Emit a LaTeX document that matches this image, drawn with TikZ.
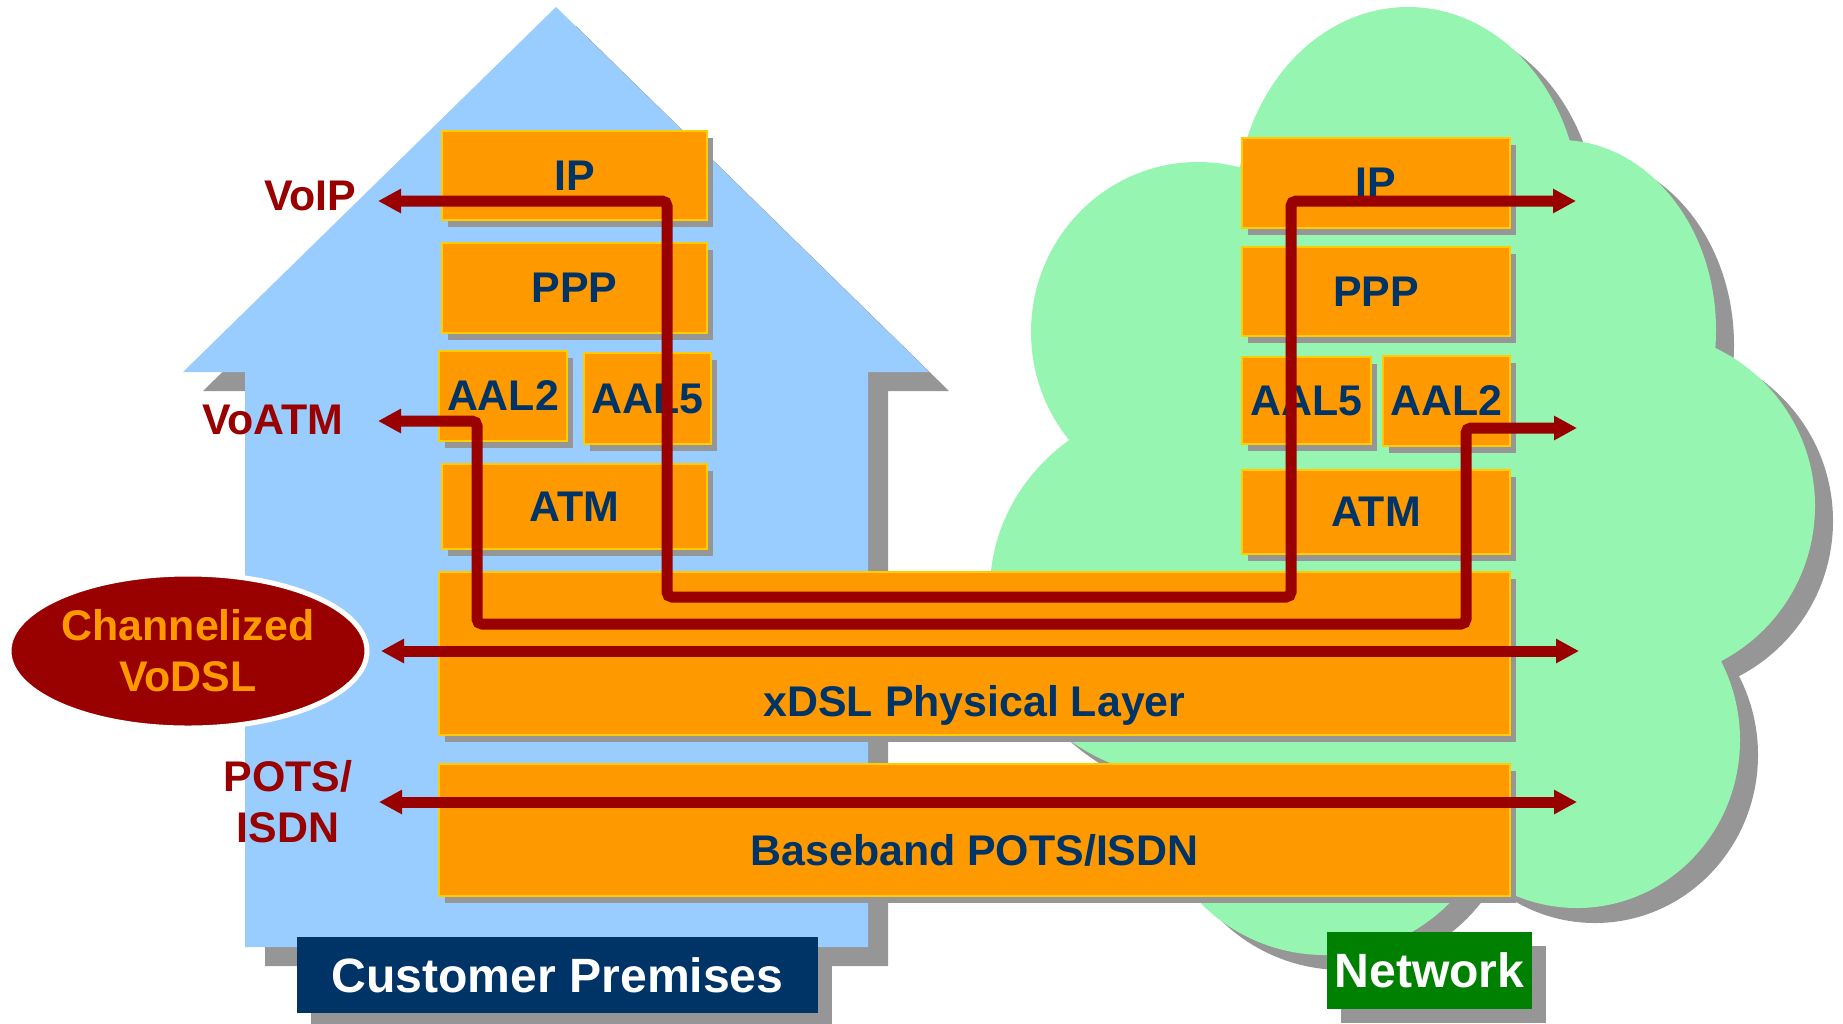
\documentclass[tikz,border=0pt]{standalone}
\usepackage{fontspec}
\setmainfont{Liberation Sans}
\usetikzlibrary{arrows.meta,shapes.geometric,shadows}

\definecolor{houseblue}{HTML}{99CCFF}
\definecolor{cloudgreen}{HTML}{96F5B1}
\definecolor{shadowgray}{HTML}{969696}
\definecolor{layerorange}{HTML}{FF9900}
\definecolor{layeredge}{HTML}{FFCC00}
\definecolor{navy}{HTML}{003366}
\definecolor{darkred}{HTML}{990000}
\definecolor{netgreen}{HTML}{008000}

\newcommand{\boxfont}{\fontsize{12.2}{14.5}\selectfont\bfseries}
\newcommand{\tagfont}{\fontsize{13.7}{16}\selectfont\bfseries}

\tikzset{
    layer/.style={fill=layerorange, draw=layeredge, line width=0.15mm, text=navy, font=\boxfont, inner sep=0pt,
        general shadow={fill=shadowgray, shadow xshift=0.6mm, shadow yshift=-0.7mm}},
    side/.style={text=darkred, font=\boxfont, inner sep=0pt},
    tag/.style={text=white, font=\tagfont, inner sep=0pt,
        general shadow={fill=shadowgray, shadow xshift=1.35mm, shadow yshift=-1.35mm}},
    vodsl/.style={ellipse, fill=darkred, draw=white, line width=0.5mm, text=layerorange, font=\boxfont,
        align=center, inner sep=0pt, minimum width=35.8mm, minimum height=15.4mm},
    flow/.style={draw=darkred, line width=1.1mm, rounded corners=0.5mm,
        >={Triangle[length=2.3mm,width=2.3mm]}, <->}
}

\begin{document}
\begin{tikzpicture}[x=0.1mm, y=-0.1mm]
    \useasboundingbox (0,0) rectangle (1843,1023);

    % house and cloud, shadow first
    \foreach \dx/\dy/\col in {20/19/shadowgray, 0/0/houseblue}
        \fill[\col, shift={(\dx,\dy)}] (556,7) -- (929,372) -- (868,372) -- (868,947)
            -- (245,947) -- (245,372) -- (183,372) -- cycle;
    \foreach \dx/\dy/\col in {18/15/shadowgray, 0/0/cloudgreen}
        \fill[\col, shift={(\dx,\dy)}]
            (1408,210) ellipse [x radius=172, y radius=203]
            (1198,332) ellipse [x radius=167, y radius=170]
            (1560,330) ellipse [x radius=156, y radius=190]
            (1640,506) circle [radius=175]
            (1577,740) ellipse [x radius=163, y radius=168]
            (1325,780) circle [radius=175]
            (1195,590) ellipse [x radius=205, y radius=190]
            (1400,520) ellipse [x radius=260, y radius=300];

    % customer side stack
    \node[layer, minimum width=26.5mm, minimum height=8.9mm] (ipL) at (574.5,175.5) {IP};
    \node[layer, minimum width=26.5mm, minimum height=9mm] (pppL) at (574.5,288) {PPP};
    \node[layer, minimum width=12.8mm, minimum height=9mm] (aaltwoL) at (503,396) {AAL2};
    \node[layer, minimum width=12.7mm, minimum height=9.1mm] (aalfiveL) at (647.5,398.5) {AAL5};
    \node[layer, minimum width=26.5mm, minimum height=8.5mm] (atmL) at (574.5,506.5) {ATM};

    % network side stack
    \node[layer, minimum width=26.8mm, minimum height=9mm] (ipR) at (1376,183) {IP};
    \node[layer, minimum width=26.8mm, minimum height=8.9mm] (pppR) at (1376,291.5) {PPP};
    \node[layer, minimum width=12.9mm, minimum height=8.7mm] (aalfiveR) at (1306.5,400.5) {AAL5};
    \node[layer, minimum width=12.7mm, minimum height=9mm] (aaltwoR) at (1446.5,401) {AAL2};
    \node[layer, minimum width=26.8mm, minimum height=8.4mm] (atmR) at (1376,512) {ATM};

    % shared layers
    \node[layer, minimum width=107.1mm, minimum height=16.3mm] (xdsl) at (974.5,653.5) {};
    \node[text=navy, font=\boxfont, inner sep=0pt, anchor=base, yshift=-6.25mm] (xdsltext) at (xdsl.center) {xDSL Physical Layer};
    \node[layer, minimum width=107.1mm, minimum height=13.2mm] (base) at (974.5,830) {};
    \node[text=navy, font=\boxfont, inner sep=0pt, anchor=base, yshift=-3.5mm] (basetext) at (base.center) {Baseband POTS/ISDN};

    % tags
    \node[tag, fill=navy, minimum width=52.1mm, minimum height=7.6mm] (cust) at (557.5,975) {Customer Premises};
    \node[tag, fill=netgreen, minimum width=20.5mm, minimum height=7.7mm] (net) at (1429.5,970.5) {Network};

    % side labels
    \node[side, anchor=east] (voip) at (357,196) {VoIP};
    \node[side, anchor=east] (voatm) at (344,420) {VoATM};
    \node[side, align=center] (pots) at (288,802) {POTS/\\ISDN};
    \node[vodsl] (chan) at (188,651) {Channelized\\VoDSL};

    % paths
    \coordinate (voipL) at (378,201);
    \coordinate (voipA) at (667,597);
    \coordinate (voipB) at (1291,201);
    \coordinate (voipR) at (1576,201);
    \coordinate (voatmL) at (378,421);
    \coordinate (voatmA) at (477,624);
    \coordinate (voatmB) at (1466,428);
    \coordinate (voatmR) at (1577,428);
    \coordinate (dslL) at (381,651);
    \coordinate (dslR) at (1579,651);
    \coordinate (potsL) at (379,802);
    \coordinate (potsR) at (1577,802);

    \draw[flow] (voipL) -| (voipA) -| (voipB) -- (voipR);
    \draw[flow] (voatmL) -| (voatmA) -| (voatmB) -- (voatmR);
    \draw[flow] (dslL) -- (dslR);
    \draw[flow] (potsL) -- (potsR);
\end{tikzpicture}
\end{document}
